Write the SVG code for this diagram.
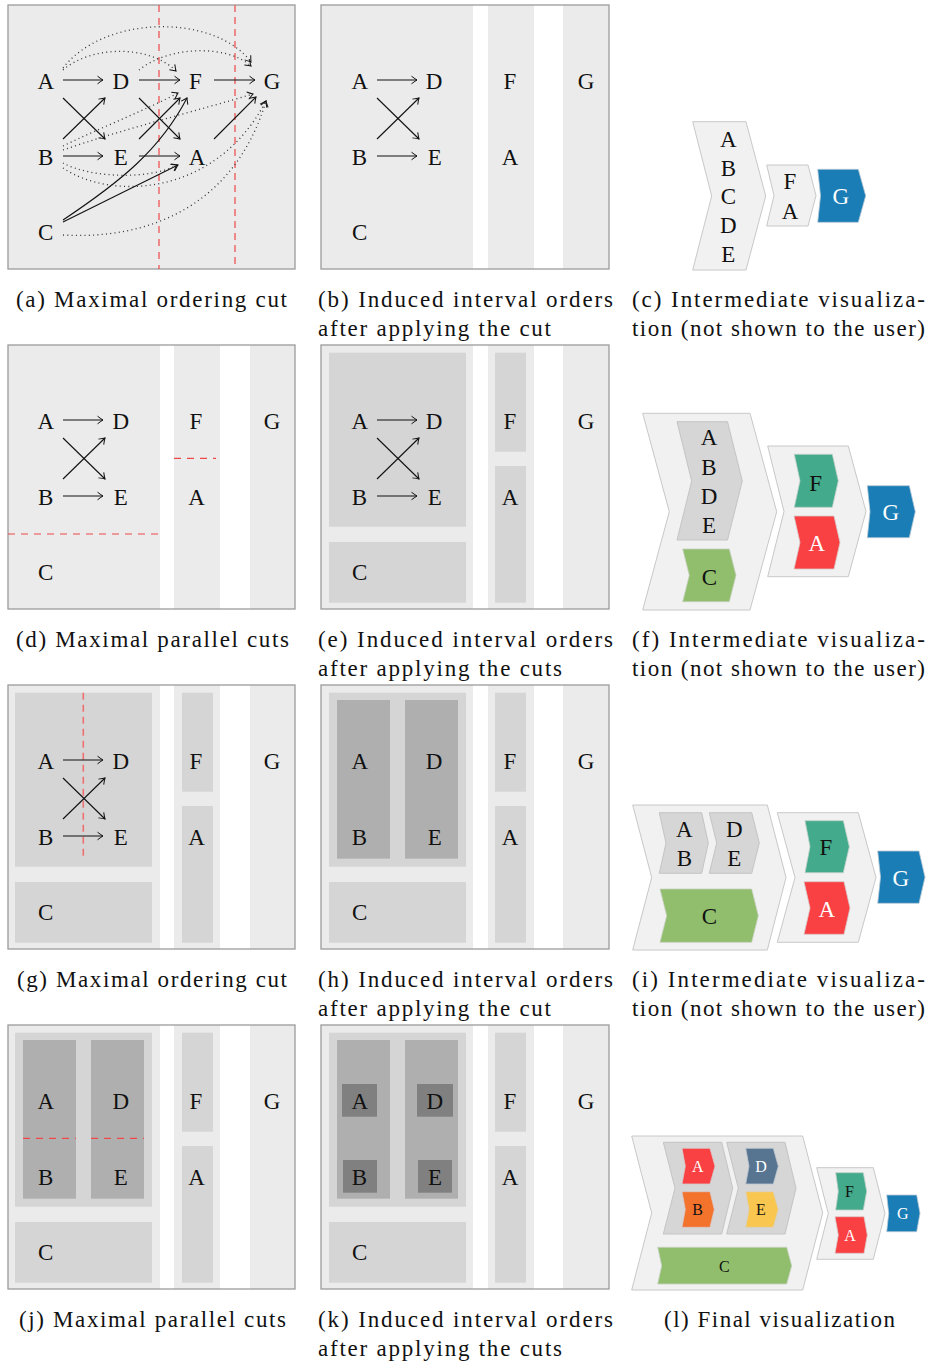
<svg xmlns="http://www.w3.org/2000/svg" width="930" height="1364" viewBox="0 0 930 1364">
<defs>
<style>
.bg{fill:#ebebeb}
.l2{fill:#d5d5d5}
.l3{fill:#afafaf}
.l4{fill:#808080}
.frame{fill:none;stroke:#9b9b9b;stroke-width:1.3}
.lbl{font-family:"Liberation Serif",serif;font-size:23px;text-anchor:middle;fill:#111}
.sm{font-size:16px}
.w{fill:#fff}
.cap{font-family:"Liberation Serif",serif;font-size:23px;fill:#111}
.arr{stroke:#111;stroke-width:1.1;fill:none;marker-end:url(#ah)}
.dot{stroke:#333;stroke-width:1.3;stroke-dasharray:1 3.3;fill:none;marker-end:url(#ah)}
.cut{stroke:#f04848;stroke-width:1.2;stroke-dasharray:7 6;fill:none}
.cut2{stroke:#ee7070;stroke-width:1.6;stroke-dasharray:7 5;fill:none}
.chev{fill:#f1f1f1;stroke:#c8c8c8;stroke-width:1}
.chevg{fill:#d6d6d6;stroke:#c4c4c4;stroke-width:1}
.red{fill:#f94144;stroke:#d9c9c9;stroke-width:.8}
.org{fill:#f3722c;stroke:#d9c9c9;stroke-width:.8}
.yel{fill:#f9c74f;stroke:#d9d0c0;stroke-width:.8}
.grn{fill:#90be6d;stroke:#c8d0c0;stroke-width:.8}
.teal{fill:#43aa8b;stroke:#c0d0c8;stroke-width:.8}
.bgr{fill:#577590;stroke:#c0c8d0;stroke-width:.8}
.blu{fill:#1b7db5;stroke:#b8c8d4;stroke-width:.8}
</style>
<marker id="ah" viewBox="-7 -5 8 10" refX="0" refY="0" markerWidth="8" markerHeight="10" markerUnits="userSpaceOnUse" orient="auto">
<path d="M-5.5,-3.8 Q-1.5,-0.8 0,0 Q-1.5,0.8 -5.5,3.8" fill="none" stroke="#111" stroke-width="1" stroke-dasharray="none"/>
</marker>
</defs>

<!-- Panel backgrounds -->
<g id="backgrounds">
  <rect class="bg" x="8" y="5" width="287" height="264"/>
  <rect class="bg" x="321" y="5" width="152" height="264"/>
  <rect class="bg" x="488" y="5" width="46" height="264"/>
  <rect class="bg" x="563" y="5" width="46" height="264"/>
  <g transform="translate(0,340)">
    <rect class="bg" x="8" y="5" width="152" height="264"/>
    <rect class="bg" x="174" y="5" width="46" height="264"/>
    <rect class="bg" x="250" y="5" width="45" height="264"/>
  </g>
  <g transform="translate(0,340)">
    <rect class="bg" x="321" y="5" width="152" height="264"/>
    <rect class="bg" x="488" y="5" width="46" height="264"/>
    <rect class="bg" x="563" y="5" width="46" height="264"/>
    <rect class="l2" x="329" y="12.7" width="137" height="174"/>
    <rect class="l2" x="329" y="202" width="137" height="60.7"/>
    <rect class="l2" x="495" y="12.7" width="31" height="99"/>
    <rect class="l2" x="495" y="126" width="31" height="136.7"/>
  </g>
  <g transform="translate(0,680)">
    <rect class="bg" x="8" y="5" width="152" height="264"/>
    <rect class="bg" x="174" y="5" width="46" height="264"/>
    <rect class="bg" x="250" y="5" width="45" height="264"/>
    <rect class="l2" x="15" y="12.7" width="137" height="174"/>
    <rect class="l2" x="15" y="202" width="137" height="60.7"/>
    <rect class="l2" x="182" y="12.7" width="31" height="99"/>
    <rect class="l2" x="182" y="126" width="31" height="136.7"/>
  </g>
  <g transform="translate(0,680)">
    <rect class="bg" x="321" y="5" width="152" height="264"/>
    <rect class="bg" x="488" y="5" width="46" height="264"/>
    <rect class="bg" x="563" y="5" width="46" height="264"/>
    <rect class="l2" x="329" y="12.7" width="137" height="174"/>
    <rect class="l2" x="329" y="202" width="137" height="60.7"/>
    <rect class="l2" x="495" y="12.7" width="31" height="99"/>
    <rect class="l2" x="495" y="126" width="31" height="136.7"/>
    <rect class="l3" x="337" y="20" width="53" height="158.7"/>
    <rect class="l3" x="405" y="20" width="53" height="158.7"/>
  </g>
  <g transform="translate(0,1020)">
    <rect class="bg" x="8" y="5" width="152" height="264"/>
    <rect class="bg" x="174" y="5" width="46" height="264"/>
    <rect class="bg" x="250" y="5" width="45" height="264"/>
    <rect class="l2" x="15" y="12.7" width="137" height="174"/>
    <rect class="l2" x="15" y="202" width="137" height="60.7"/>
    <rect class="l2" x="182" y="12.7" width="31" height="99"/>
    <rect class="l2" x="182" y="126" width="31" height="136.7"/>
    <rect class="l3" x="23" y="20" width="53" height="158.7"/>
    <rect class="l3" x="91" y="20" width="53" height="158.7"/>
  </g>
  <g transform="translate(0,1020)">
    <rect class="bg" x="321" y="5" width="152" height="264"/>
    <rect class="bg" x="488" y="5" width="46" height="264"/>
    <rect class="bg" x="563" y="5" width="46" height="264"/>
    <rect class="l2" x="329" y="12.7" width="137" height="174"/>
    <rect class="l2" x="329" y="202" width="137" height="60.7"/>
    <rect class="l2" x="495" y="12.7" width="31" height="99"/>
    <rect class="l2" x="495" y="126" width="31" height="136.7"/>
    <rect class="l3" x="337" y="20" width="53" height="158.7"/>
    <rect class="l3" x="405" y="20" width="53" height="158.7"/>
    <rect class="l4" x="342" y="64" width="35" height="32.7"/>
    <rect class="l4" x="417" y="64" width="36" height="32.7"/>
    <rect class="l4" x="343" y="140" width="34" height="32.7"/>
    <rect class="l4" x="418" y="140" width="34" height="32.7"/>
  </g>
  <rect class="frame" x="8" y="5" width="287" height="264"/>
  <rect class="frame" x="321" y="5" width="288" height="264"/>
  <rect class="frame" x="8" y="345" width="287" height="264"/>
  <rect class="frame" x="321" y="345" width="288" height="264"/>
  <rect class="frame" x="8" y="685" width="287" height="264"/>
  <rect class="frame" x="321" y="685" width="288" height="264"/>
  <rect class="frame" x="8" y="1025" width="287" height="264"/>
  <rect class="frame" x="321" y="1025" width="288" height="264"/>
</g>

<!-- Cuts -->
<g id="cuts">
  <path class="cut" d="M159,5 V269"/>
  <path class="cut2" d="M235,5 V269"/>
  <path class="cut" d="M8,534 H160"/>
  <path class="cut" d="M174,458.3 H216"/>
  <path class="cut2" d="M83.3,692.7 V860"/>
  <path class="cut" d="M23,1138.3 H76"/>
  <path class="cut" d="M91,1138.3 H144"/>
</g>

<!-- Connectors -->
<g id="connectors">
  <path class="arr" d="M63,80 H103"/>
  <path class="arr" d="M139,80 H180"/>
  <path class="arr" d="M214,80 H255"/>
  <path class="arr" d="M63,156 H103"/>
  <path class="arr" d="M139,156 H180"/>
  <path class="arr" d="M63,98 L105,139"/>
  <path class="arr" d="M63,139 L105,98"/>
  <path class="arr" d="M139,98 L180,139"/>
  <path class="arr" d="M139,139 L180,98"/>
  <path class="arr" d="M214,139 L256,97"/>
  <path class="arr" d="M63,222 L178,165"/>
  <path class="arr" d="M63,220 C120,182 160,150 187,98"/>
  <path class="dot" d="M63,70 C92,45 150,45 176,71"/>
  <path class="dot" d="M63,68 C105,14 215,14 251,62"/>
  <path class="dot" d="M139,70 C170,45 228,45 251,66"/>
  <path class="dot" d="M63,146 C100,128 150,108 178,93"/>
  <path class="dot" d="M63,150 C120,130 200,110 253,94"/>
  <path class="dot" d="M63,163 C90,178 150,180 177,165"/>
  <path class="dot" d="M63,168 C110,200 215,198 266,101"/>
  <path class="dot" d="M63,235 C150,240 235,205 266,101"/>
  <path class="arr" d="M377,80 H417"/>
  <path class="arr" d="M377,156 H417"/>
  <path class="arr" d="M377,98 L419,139"/>
  <path class="arr" d="M377,139 L419,98"/>
  <g transform="translate(0,340)">
    <path class="arr" d="M63,80 H103"/>
    <path class="arr" d="M63,156 H103"/>
    <path class="arr" d="M63,98 L105,139"/>
    <path class="arr" d="M63,139 L105,98"/>
  </g>
  <g transform="translate(0,340)">
    <path class="arr" d="M377,80 H417"/>
    <path class="arr" d="M377,156 H417"/>
    <path class="arr" d="M377,98 L419,139"/>
    <path class="arr" d="M377,139 L419,98"/>
  </g>
  <g transform="translate(0,680)">
    <path class="arr" d="M63,80 H103"/>
    <path class="arr" d="M63,156 H103"/>
    <path class="arr" d="M63,98 L105,139"/>
    <path class="arr" d="M63,139 L105,98"/>
  </g>
</g>

<!-- Nodes -->
<g id="panel-a" class="lbl">
  <g id="a-A"><text x="45.7" y="89">A</text></g>
  <g id="a-D"><text x="120.7" y="89">D</text></g>
  <g id="a-F"><text x="195.3" y="89">F</text></g>
  <g id="a-G"><text x="272" y="89">G</text></g>
  <g id="a-B"><text x="45.7" y="165">B</text></g>
  <g id="a-E"><text x="120.7" y="165">E</text></g>
  <g id="a-A2"><text x="197" y="165">A</text></g>
  <g id="a-C"><text x="45.7" y="240">C</text></g>
</g>
<g id="panel-b" class="lbl">
  <g id="b-A"><text x="359.7" y="89">A</text></g>
  <g id="b-D"><text x="434" y="89">D</text></g>
  <g id="b-F"><text x="510" y="89">F</text></g>
  <g id="b-G"><text x="586" y="89">G</text></g>
  <g id="b-B"><text x="359.3" y="165">B</text></g>
  <g id="b-E"><text x="434.7" y="165">E</text></g>
  <g id="b-A2"><text x="510" y="165">A</text></g>
  <g id="b-C"><text x="359.7" y="240">C</text></g>
</g>
<g id="panel-d" class="lbl" transform="translate(0,340)">
  <g id="d-A"><text x="45.7" y="89">A</text></g>
  <g id="d-D"><text x="120.7" y="89">D</text></g>
  <g id="d-F"><text x="196" y="89">F</text></g>
  <g id="d-G"><text x="272" y="89">G</text></g>
  <g id="d-B"><text x="45.7" y="165">B</text></g>
  <g id="d-E"><text x="120.7" y="165">E</text></g>
  <g id="d-A2"><text x="196.5" y="165">A</text></g>
  <g id="d-C"><text x="45.7" y="240">C</text></g>
</g>
<g id="panel-e" class="lbl" transform="translate(0,340)">
  <g id="e-A"><text x="359.7" y="89">A</text></g>
  <g id="e-D"><text x="434" y="89">D</text></g>
  <g id="e-F"><text x="510" y="89">F</text></g>
  <g id="e-G"><text x="586" y="89">G</text></g>
  <g id="e-B"><text x="359.3" y="165">B</text></g>
  <g id="e-E"><text x="434.7" y="165">E</text></g>
  <g id="e-A2"><text x="510" y="165">A</text></g>
  <g id="e-C"><text x="359.7" y="240">C</text></g>
</g>
<g id="panel-g" class="lbl" transform="translate(0,680)">
  <g id="g-A"><text x="45.7" y="89">A</text></g>
  <g id="g-D"><text x="120.7" y="89">D</text></g>
  <g id="g-F"><text x="196" y="89">F</text></g>
  <g id="g-G"><text x="272" y="89">G</text></g>
  <g id="g-B"><text x="45.7" y="165">B</text></g>
  <g id="g-E"><text x="120.7" y="165">E</text></g>
  <g id="g-A2"><text x="196.5" y="165">A</text></g>
  <g id="g-C"><text x="45.7" y="240">C</text></g>
</g>
<g id="panel-h" class="lbl" transform="translate(0,680)">
  <g id="h-A"><text x="359.7" y="89">A</text></g>
  <g id="h-D"><text x="434" y="89">D</text></g>
  <g id="h-F"><text x="510" y="89">F</text></g>
  <g id="h-G"><text x="586" y="89">G</text></g>
  <g id="h-B"><text x="359.3" y="165">B</text></g>
  <g id="h-E"><text x="434.7" y="165">E</text></g>
  <g id="h-A2"><text x="510" y="165">A</text></g>
  <g id="h-C"><text x="359.7" y="240">C</text></g>
</g>
<g id="panel-j" class="lbl" transform="translate(0,1020)">
  <g id="j-A"><text x="45.7" y="89">A</text></g>
  <g id="j-D"><text x="120.7" y="89">D</text></g>
  <g id="j-F"><text x="196" y="89">F</text></g>
  <g id="j-G"><text x="272" y="89">G</text></g>
  <g id="j-B"><text x="45.7" y="165">B</text></g>
  <g id="j-E"><text x="120.7" y="165">E</text></g>
  <g id="j-A2"><text x="196.5" y="165">A</text></g>
  <g id="j-C"><text x="45.7" y="240">C</text></g>
</g>
<g id="panel-k" class="lbl" transform="translate(0,1020)">
  <g id="k-A"><text x="359.7" y="89">A</text></g>
  <g id="k-D"><text x="434.7" y="89">D</text></g>
  <g id="k-F"><text x="510" y="89">F</text></g>
  <g id="k-G"><text x="586" y="89">G</text></g>
  <g id="k-B"><text x="359.3" y="165">B</text></g>
  <g id="k-E"><text x="435" y="165">E</text></g>
  <g id="k-A2"><text x="510" y="165">A</text></g>
  <g id="k-C"><text x="359.7" y="240">C</text></g>
</g>

<!-- (c) -->
<g id="panel-c" class="lbl">
  <g id="c-ABCDE">
    <polygon class="chev" points="692.7,121.7 746,121.7 765.7,196 746,270 692.7,270 711.7,196"/>
    <text x="728.3" y="146.7">A</text>
    <text x="728.3" y="175.5">B</text>
    <text x="728.3" y="204">C</text>
    <text x="728.3" y="232.5">D</text>
    <text x="728.3" y="261.5">E</text>
  </g>
  <g id="c-FA">
    <polygon class="chev" points="766.7,165 808,165 816,195.5 808,226 766.7,226 774,195.5"/>
    <text x="790" y="188.5">F</text>
    <text x="790" y="219">A</text>
  </g>
  <g id="c-G">
    <polygon class="blu" points="817.7,169.3 858.3,169.3 865.7,195.8 858.3,222.3 817.7,222.3 820.5,195.8"/>
    <text class="w" x="840.7" y="203.5">G</text>
  </g>
</g>

<!-- (f) -->
<g id="panel-f" class="lbl">
  <g id="f-group1">
    <polygon class="chev" points="642.7,413.3 750,413.3 776.7,511.7 750,610 642.7,610 669.3,511.7"/>
  </g>
  <g id="f-ABDE">
    <polygon class="chevg" points="677,421.7 727.5,421.7 742.3,481 727.5,540 677,540 691.7,481"/>
    <text x="709" y="445">A</text>
    <text x="709" y="475">B</text>
    <text x="709" y="504">D</text>
    <text x="709" y="533.3">E</text>
  </g>
  <g id="f-C">
    <polygon class="grn" points="682.7,549 729.3,549 736,575.3 729.3,601.7 682.7,601.7 689.3,575.3"/>
    <text x="709.3" y="585">C</text>
  </g>
  <g id="f-group2">
    <polygon class="chev" points="767.7,446 848.3,446 866,511.5 848.3,576.7 767.7,576.7 784,511.5"/>
  </g>
  <g id="f-F">
    <polygon class="teal" points="794.3,454.3 832.3,454.3 838.3,480.8 832.3,507.3 794.3,507.3 800,480.8"/>
    <text x="815.7" y="490.5">F</text>
  </g>
  <g id="f-A">
    <polygon class="red" points="794,516 834,516 840,542.5 834,569 794,569 800,542.5"/>
    <text class="w" x="816.7" y="551">A</text>
  </g>
  <g id="f-G">
    <polygon class="blu" points="867.3,485.7 909.3,485.7 915.3,511.7 909.3,537.7 867.3,537.7 870,511.7"/>
    <text class="w" x="890.7" y="520">G</text>
  </g>
</g>

<!-- (i) -->
<g id="panel-i" class="lbl">
  <g id="i-group1">
    <polygon class="chev" points="632.7,805 767.3,805 786,877.5 767.3,950 632.7,950 651.7,877.5"/>
  </g>
  <g id="i-AB">
    <polygon class="chevg" points="659.3,812.7 701.7,812.7 708.3,843 701.7,873.3 659.3,873.3 666,843"/>
    <text x="684.3" y="836.7">A</text>
    <text x="684.3" y="866">B</text>
  </g>
  <g id="i-DE">
    <polygon class="chevg" points="709.3,812.7 751.7,812.7 759.3,843 751.7,873.3 709.3,873.3 716.7,843"/>
    <text x="734.3" y="836.7">D</text>
    <text x="734.3" y="866">E</text>
  </g>
  <g id="i-C">
    <polygon class="grn" points="660,889 751.7,889 758.3,915.7 751.7,942.3 660,942.3 666.7,915.7"/>
    <text x="709.3" y="924.3">C</text>
  </g>
  <g id="i-group2">
    <polygon class="chev" points="777.3,812.7 858.3,812.7 876,877.5 858.3,942.3 777.3,942.3 795,877.5"/>
  </g>
  <g id="i-F">
    <polygon class="teal" points="805,820.7 843.3,820.7 849.3,846.7 843.3,872.7 805,872.7 810,846.7"/>
    <text x="826" y="855">F</text>
  </g>
  <g id="i-A">
    <polygon class="red" points="804,881.7 844,881.7 850,908 844,934.3 804,934.3 810,908"/>
    <text class="w" x="826.7" y="916.5">A</text>
  </g>
  <g id="i-G">
    <polygon class="blu" points="877.7,851 919,851 925,877.2 919,903.3 877.7,903.3 880.5,877.2"/>
    <text class="w" x="900.7" y="885.7">G</text>
  </g>
</g>

<!-- (l) -->
<g id="panel-l" class="lbl">
  <g id="l-group1">
    <polygon class="chev" points="631.7,1136 802.7,1136 822.7,1213 802.7,1290 631.7,1290 651.7,1213"/>
  </g>
  <g id="l-AB">
    <polygon class="chevg" points="663.3,1142.3 721.7,1142.3 732.7,1188.2 721.7,1234 663.3,1234 675,1188.2"/>
  </g>
  <g id="l-DE">
    <polygon class="chevg" points="726.7,1142.3 785,1142.3 796,1188.2 785,1234 726.7,1234 738.3,1188.2"/>
  </g>
  <g id="l-A">
    <polygon class="red" points="682,1148.3 710,1148.3 715,1166.2 710,1184 682,1184 685.3,1166.2"/>
    <text class="sm w" x="697.7" y="1171.7">A</text>
  </g>
  <g id="l-B">
    <polygon class="org" points="682,1191.7 710,1191.7 714.3,1209.5 710,1227.3 682,1227.3 685.3,1209.5"/>
    <text class="sm" x="697.7" y="1215.2">B</text>
  </g>
  <g id="l-D">
    <polygon class="bgr" points="745.7,1148.3 773.3,1148.3 778.3,1166.2 773.3,1184 745.7,1184 749,1166.2"/>
    <text class="sm w" x="761" y="1171.7">D</text>
  </g>
  <g id="l-E">
    <polygon class="yel" points="745.7,1191.7 773.3,1191.7 778.3,1209.5 773.3,1227.3 745.7,1227.3 749,1209.5"/>
    <text class="sm" x="761" y="1215.2">E</text>
  </g>
  <g id="l-C">
    <polygon class="grn" points="657.7,1247.3 786.7,1247.3 791.7,1265.7 786.7,1284 657.7,1284 661.7,1265.7"/>
    <text class="sm" x="724.3" y="1271.5">C</text>
  </g>
  <g id="l-group2">
    <polygon class="chev" points="816.7,1167.7 873.3,1167.7 885,1213.5 873.3,1259.3 816.7,1259.3 828.3,1213.5"/>
  </g>
  <g id="l-F">
    <polygon class="teal" points="835.7,1172.7 863.3,1172.7 866.7,1191.3 863.3,1210 835.7,1210 838.3,1191.3"/>
    <text class="sm" x="849.5" y="1197">F</text>
  </g>
  <g id="l-A2">
    <polygon class="red" points="835,1216.7 864,1216.7 867.3,1235 864,1253.3 835,1253.3 838.3,1235"/>
    <text class="sm w" x="850" y="1240.7">A</text>
  </g>
  <g id="l-G">
    <polygon class="blu" points="886.7,1195 916.7,1195 920,1213.3 916.7,1231.7 886.7,1231.7 888.7,1213.3"/>
    <text class="sm w" x="902.7" y="1219">G</text>
  </g>
</g>

<!-- Captions -->
<g id="captions" class="cap">
  <text x="16" y="307" textLength="271" lengthAdjust="spacing">(a) Maximal ordering cut</text>
  <text x="318" y="307" textLength="295" lengthAdjust="spacing">(b) Induced interval orders</text>
  <text x="318" y="336" textLength="233" lengthAdjust="spacing">after applying the cut</text>
  <text x="632" y="307" textLength="293" lengthAdjust="spacing">(c) Intermediate visualiza-</text>
  <text x="632" y="336" textLength="293" lengthAdjust="spacing">tion (not shown to the user)</text>

  <text x="16" y="647" textLength="273" lengthAdjust="spacing">(d) Maximal parallel cuts</text>
  <text x="318" y="647" textLength="295" lengthAdjust="spacing">(e) Induced interval orders</text>
  <text x="318" y="676" textLength="244" lengthAdjust="spacing">after applying the cuts</text>
  <text x="632" y="647" textLength="293" lengthAdjust="spacing">(f) Intermediate visualiza-</text>
  <text x="632" y="676" textLength="293" lengthAdjust="spacing">tion (not shown to the user)</text>

  <text x="17" y="987" textLength="270" lengthAdjust="spacing">(g) Maximal ordering cut</text>
  <text x="318" y="987" textLength="295" lengthAdjust="spacing">(h) Induced interval orders</text>
  <text x="318" y="1016" textLength="233" lengthAdjust="spacing">after applying the cut</text>
  <text x="632" y="987" textLength="293" lengthAdjust="spacing">(i) Intermediate visualiza-</text>
  <text x="632" y="1016" textLength="293" lengthAdjust="spacing">tion (not shown to the user)</text>

  <text x="19" y="1327" textLength="267" lengthAdjust="spacing">(j) Maximal parallel cuts</text>
  <text x="318" y="1327" textLength="295" lengthAdjust="spacing">(k) Induced interval orders</text>
  <text x="318" y="1356" textLength="244" lengthAdjust="spacing">after applying the cuts</text>
  <text x="664" y="1327" textLength="231" lengthAdjust="spacing">(l) Final visualization</text>
</g>
</svg>
